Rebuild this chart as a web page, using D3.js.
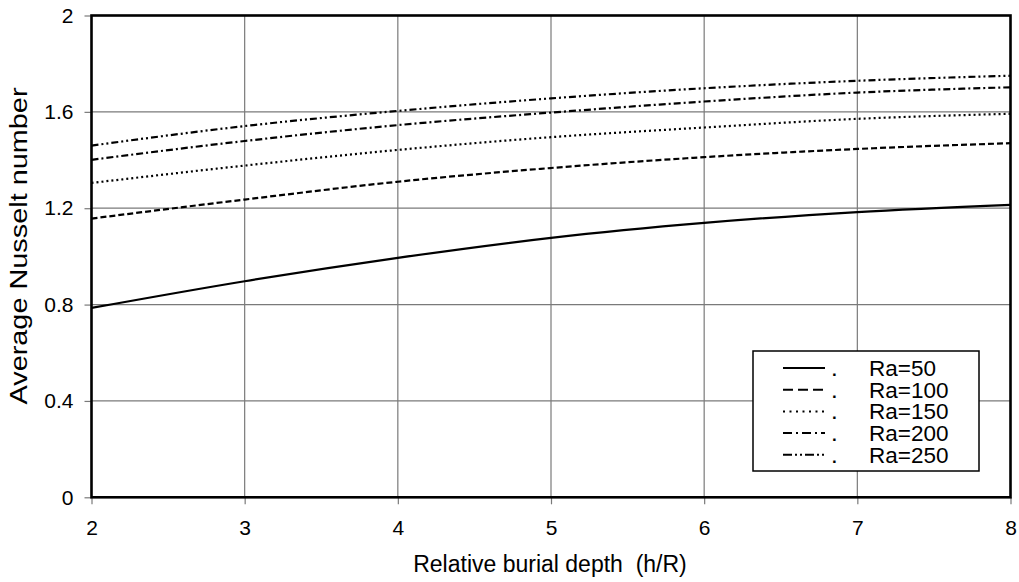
<!DOCTYPE html>
<html lang="en">
  <head>
    <meta charset="UTF-8" />
    <title>Average Nusselt number</title>
    <style>
      body { margin: 0; background: #fff; }
      svg text { font-family: "Liberation Sans", Arial, sans-serif; fill: #000; white-space: pre; }
      .grid line { stroke: #7a7a7a; stroke-width: 1.2; }
      .tick line { stroke: #7a7a7a; stroke-width: 1.2; }
      .curve { fill: none; stroke: #000; stroke-width: 2.2; }
    </style>
  </head>
  <body>
    <div id="chart"></div>
    <script src="https://cdn.jsdelivr.net/npm/d3@7"></script>
    <script>
      // data
      var depth = [2, 3, 4, 5, 6, 7, 8];
      var xTicks = [2, 3, 4, 5, 6, 7, 8];
      var yTicks = [0, 0.4, 0.8, 1.2, 1.6, 2];
      var yTickLabels = ["0", "0.4", "0.8", "1.2", "1.6", "2"];
      var seriesNames = ["Ra=50", "Ra=100", "Ra=150", "Ra=200", "Ra=250"];
      var ra50  = [0.786, 0.897, 0.994, 1.077, 1.139, 1.184, 1.214];
      var ra100 = [1.157, 1.236, 1.310, 1.367, 1.412, 1.446, 1.470];
      var ra150 = [1.305, 1.377, 1.442, 1.495, 1.535, 1.571, 1.592];
      var ra200 = [1.401, 1.479, 1.545, 1.597, 1.643, 1.680, 1.702];
      var ra250 = [1.460, 1.541, 1.604, 1.656, 1.698, 1.729, 1.750];

      var allSeries = [ra50, ra100, ra150, ra200, ra250];
      var dashes = ["none", "6,3", "2,3", "7,3,2,3", "7,3,2,3,2,3"];
      var legendDashes = ["none", "10,5", "2,4.5", "9,4,2,4", "9,3,2,3,2,3"];

      var width = 1019, height = 582;
      var plot = { left: 91.5, right: 1010.5, top: 15.5, bottom: 497.3 };

      var svg = d3.select("#chart").append("svg")
                  .attr("width", width)
                  .attr("height", height);

      var xScale = d3.scaleLinear().domain([2, 8]).range([plot.left, plot.right]);
      var yScale = d3.scaleLinear().domain([0, 2]).range([plot.bottom, plot.top]);

      // grid
      var grid = svg.append("g").attr("class", "grid");
      grid.selectAll(".vx")
          .data(xTicks.slice(1, -1))
          .enter().append("line")
          .attr("x1", function(d){ return xScale(d); })
          .attr("x2", function(d){ return xScale(d); })
          .attr("y1", plot.top)
          .attr("y2", plot.bottom);
      grid.selectAll(".hy")
          .data(yTicks.slice(1, -1))
          .enter().append("line")
          .attr("x1", plot.left)
          .attr("x2", plot.right)
          .attr("y1", function(d){ return yScale(d); })
          .attr("y2", function(d){ return yScale(d); });

      // axes
      var xAxis = d3.axisBottom(xScale)
                    .tickValues(xTicks)
                    .tickSize(7)
                    .tickPadding(16)
                    .tickFormat(d3.format("d"));
      var yAxis = d3.axisLeft(yScale)
                    .tickValues(yTicks)
                    .tickSize(7)
                    .tickPadding(11)
                    .tickFormat(function(d, i){ return yTickLabels[i]; });

      var gx = svg.append("g")
         .attr("transform", "translate(0," + plot.bottom + ")")
         .call(xAxis);
      var gy = svg.append("g")
         .attr("transform", "translate(" + plot.left + ",0)")
         .call(yAxis);
      [gx, gy].forEach(function(g){
        g.select(".domain").remove();
        g.selectAll("text").attr("font-size", 21).attr("fill", "#000");
      });
      gx.selectAll("text").attr("dy", "0.72em");

      // curves
      var line = d3.line()
                   .x(function(d, i){ return xScale(depth[i]); })
                   .y(function(d){ return yScale(d); })
                   .curve(d3.curveMonotoneX);

      svg.selectAll(".curve")
         .data(allSeries)
         .enter().append("path")
         .attr("class", "curve")
         .attr("stroke-dasharray", function(d, i){ return dashes[i]; })
         .attr("d", line);

      // frame
      svg.append("rect")
         .attr("x", plot.left)
         .attr("y", plot.top)
         .attr("width", plot.right - plot.left)
         .attr("height", plot.bottom - plot.top)
         .attr("fill", "none")
         .attr("stroke", "#000")
         .attr("stroke-width", 2.6);

      // legend
      var lg = svg.append("g");
      lg.append("rect")
        .attr("x", 753).attr("y", 351)
        .attr("width", 226).attr("height", 120)
        .attr("fill", "#fff")
        .attr("stroke", "#000")
        .attr("stroke-width", 1.5);
      var rows = lg.selectAll(".row")
        .data(seriesNames)
        .enter().append("g")
        .attr("transform", function(d, i){ return "translate(0," + (376 + i * 21.7) + ")"; });
      rows.append("line")
        .attr("x1", 783).attr("x2", 825)
        .attr("y1", -8).attr("y2", -8)
        .attr("stroke", "#000")
        .attr("stroke-width", 2)
        .attr("stroke-dasharray", function(d, i){ return legendDashes[i]; });
      rows.append("text")
        .attr("x", 832)
        .attr("font-size", 17)
        .attr("font-weight", "bold")
        .text(".");
      rows.append("text")
        .attr("x", 869)
        .attr("font-size", 22.5)
        .text(function(d){ return d; });

      // axis titles
      svg.append("text")
         .attr("x", 550)
         .attr("y", 572)
         .attr("text-anchor", "middle")
         .attr("font-size", 23)
         .text("Relative burial depth  (h/R)");
      svg.append("text")
         .attr("transform", "translate(27,246) rotate(-90)")
         .attr("text-anchor", "middle")
         .attr("font-size", 23)
         .attr("textLength", 317)
         .attr("lengthAdjust", "spacingAndGlyphs")
         .text("Average Nusselt number");
    </script>
  </body>
</html>
